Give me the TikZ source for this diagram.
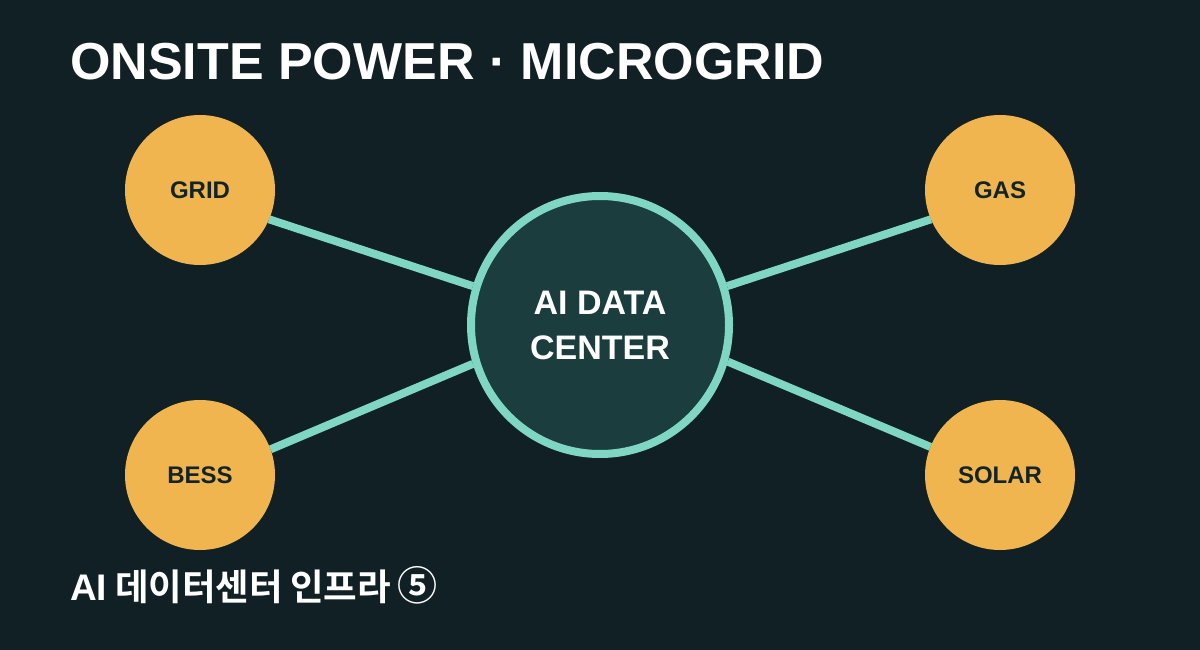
\documentclass[tikz,border=0pt]{standalone}
\usepackage{fontspec}
\setmainfont{Liberation Sans}
\newfontfamily\kofont{Noto Sans CJK KR}[BoldFont={Noto Sans CJK KR Bold}]
\usetikzlibrary{positioning}

\definecolor{bgdark}{HTML}{112024}
\definecolor{hubfill}{HTML}{1B3D3D}
\definecolor{tealline}{HTML}{7FD6C2}
\definecolor{sourcefill}{HTML}{F0B54E}
\definecolor{sourcetext}{HTML}{132428}

\begin{document}
\begin{tikzpicture}[
		x=1pt, y=-1pt,
		source/.style={circle, fill=sourcefill, minimum size=150pt, inner sep=0pt, outer sep=0pt,
			text=sourcetext, font=\bfseries\fontsize{24}{28}\selectfont},
		hub/.style={circle, draw=tealline, line width=8pt, fill=hubfill, minimum size=258pt, inner sep=0pt,
			align=center, text=white, font=\bfseries\fontsize{34}{45}\selectfont},
		link/.style={draw=tealline, line width=8pt},
	]
		\path[fill=bgdark] (0,0) rectangle (1200,650);

		\node (title) [anchor=base west, inner sep=0pt, text=white, font=\bfseries\fontsize{52}{60}\selectfont] at (70,80) {ONSITE POWER · MICROGRID};

		\node (hub) [hub] at (600,325) {AI DATA\\CENTER};
		\node (grid) [source] at (200,190) {GRID};
		\node (gas) [source] at (1000,190) {GAS};
		\node (bess) [source] at (200,475) {BESS};
		\node (solar) [source] at (1000,475) {SOLAR};

		\draw[link] (grid.-23) -- (hub.163);
		\draw[link] (bess.20) -- (hub.197);
		\draw[link] (gas.203) -- (hub.17);
		\draw[link] (solar.158) -- (hub.-16);

		\node (subtitle) [anchor=base west, inner sep=0pt, text=white, font=\bfseries\fontsize{37}{40}\selectfont] at (70,600)
			{AI\hspace{8pt}{\kofont\fontsize{36.5}{40}\selectfont 데이터센터\hspace{7pt}인프라\hspace{7pt}{\fontsize{40}{40}\selectfont ⑤}}};
	\end{tikzpicture}
\end{document}
